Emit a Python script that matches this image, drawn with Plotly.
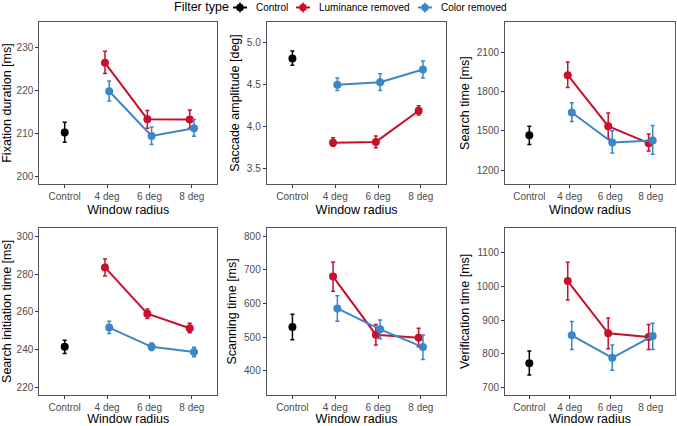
import plotly.graph_objects as go

categories = ["Control", "4 deg", "6 deg", "8 deg"]
conditions = ["4 deg", "6 deg", "8 deg"]

panel_titles = ["Fixation duration [ms]", "Saccade amplitude [deg]", "Search time [ms]",
                "Search initiation time [ms]", "Scanning time [ms]", "Verification time [ms]"]

legend_labels = ["Control", "Luminance removed", "Color removed"]

# Control: mean, lower, upper
control_mean = [210.3, 4.81, 1465, 241.5, 530, 772]
control_lo = [208.0, 4.73, 1395, 238.0, 492, 737]
control_hi = [212.7, 4.90, 1535, 245.0, 568, 808]

# Luminance removed
lum_mean = [[226.5, 213.4, 213.3], [3.81, 3.82, 4.19], [1925, 1535, 1405],
            [283.5, 259.0, 251.3], [680, 507, 498], [1016, 861, 850]]
lum_lo = [[224.0, 211.3, 211.3], [3.77, 3.75, 4.14], [1830, 1440, 1345],
          [279.0, 256.5, 249.0], [636, 476, 471], [960, 815, 813]]
lum_hi = [[229.2, 215.4, 215.5], [3.87, 3.89, 4.25], [2025, 1635, 1475],
          [288.0, 261.5, 254.0], [723, 537, 526], [1072, 906, 887]]

# Color removed
col_mean = [[219.9, 209.5, 211.3], [4.50, 4.53, 4.68], [1640, 1410, 1425],
            [251.7, 241.5, 238.7], [585, 523, 470], [855, 788, 853]]
col_lo = [[217.6, 207.5, 209.4], [4.43, 4.43, 4.58], [1570, 1330, 1320],
          [248.5, 239.5, 236.3], [547, 495, 433], [813, 751, 813]]
col_hi = [[222.3, 211.6, 213.3], [4.58, 4.63, 4.78], [1715, 1500, 1540],
          [255.0, 243.5, 241.3], [623, 551, 506], [896, 826, 891]]

y_ranges = [[198.3, 236.0], [3.32, 5.244], [1093, 2331], [216.1, 304.4], [328, 824.6], [678, 1174]]
y_ticks = [[200, 210, 220, 230], [3.5, 4.0, 4.5, 5.0], [1200, 1500, 1800, 2100],
           [220, 240, 260, 280, 300], [400, 500, 600, 700, 800], [700, 800, 900, 1000, 1100]]
y_ticktext = [None, ["3.5", "4.0", "4.5", "5.0"], None, None, None, None]

C_CTRL = "#000000"
C_LUM = "#C8102E"
C_COL = "#3C86C6"
colors = [C_CTRL, C_LUM, C_COL]

W, H = 677, 426
x_domains = [[0.058, 0.321], [0.394, 0.6595], [0.746, 0.997]]
y_domains = [[0.566, 0.948], [0.0688, 0.4624]]

fig = go.Figure()
dodge = 0.05
FONT = "Liberation Sans, Arial, sans-serif"

for i in range(6):
    ax = "" if i == 0 else str(i + 1)
    xref, yref = "x" + ax, "y" + ax
    # Control
    fig.add_trace(go.Scatter(
        x=[0], y=[control_mean[i]], mode="markers", name="Control", showlegend=False,
        marker=dict(color=C_CTRL, size=8),
        error_y=dict(type="data", symmetric=False,
                     array=[control_hi[i] - control_mean[i]],
                     arrayminus=[control_mean[i] - control_lo[i]],
                     color=C_CTRL, thickness=1.5, width=2),
        xaxis=xref, yaxis=yref))
    for name, mean, lo, hi, col, off in [
        ("Luminance removed", lum_mean[i], lum_lo[i], lum_hi[i], C_LUM, -dodge),
        ("Color removed", col_mean[i], col_lo[i], col_hi[i], C_COL, dodge)]:
        xs = [categories.index(c) + off for c in conditions]
        fig.add_trace(go.Scatter(
            x=xs, y=mean, mode="lines+markers", name=name, showlegend=False,
            marker=dict(color=col, size=8), line=dict(color=col, width=2),
            error_y=dict(type="data", symmetric=False,
                         array=[h - m for h, m in zip(hi, mean)],
                         arrayminus=[m - l for m, l in zip(mean, lo)],
                         color=col, thickness=1.5, width=2),
            xaxis=xref, yaxis=yref))

    r, c = divmod(i, 3)
    axis_common = dict(showline=True, mirror=True, linecolor="#555555", linewidth=1,
                       ticks="outside", ticklen=3, tickcolor="#333333", tickwidth=1,
                       showgrid=False, zeroline=False,
                       tickfont=dict(family=FONT, size=10, color="#4D4D4D"))
    fig.layout["xaxis" + ax] = dict(
        domain=x_domains[c], anchor=yref, range=[-0.6, 3.6],
        tickvals=[0, 1, 2, 3], ticktext=categories,
        title=dict(text="Window radius", font=dict(family=FONT, size=12.5, color="#000"), standoff=4),
        **axis_common)
    ydict = dict(domain=y_domains[r], anchor=xref, range=y_ranges[i], tickvals=y_ticks[i],
                 title=dict(text=panel_titles[i], font=dict(family=FONT, size=12.5, color="#000"), standoff=4),
                 **axis_common)
    if y_ticktext[i] is not None:
        ydict["ticktext"] = y_ticktext[i]
    fig.layout["yaxis" + ax] = ydict

# Custom legend (ggplot-style, top)
leg_y = 1 - 7.5 / H
annotations = [dict(text="Filter type", x=172 / W, y=leg_y, xref="paper", yref="paper",
                    xanchor="left", yanchor="middle", showarrow=False,
                    font=dict(family=FONT, size=12.5, color="#000"))]
shapes = []
key_centers = [240, 303, 425]
for lab, col, cx in zip(legend_labels, colors, key_centers):
    xa = cx / W
    shapes.append(dict(type="line", xref="paper", yref="paper", xsizemode="pixel", ysizemode="pixel",
                       xanchor=xa, yanchor=leg_y, x0=-7, x1=7, y0=0, y1=0,
                       line=dict(color=col, width=2)))
    shapes.append(dict(type="line", xref="paper", yref="paper", xsizemode="pixel", ysizemode="pixel",
                       xanchor=xa, yanchor=leg_y, x0=0, x1=0, y0=-5, y1=5,
                       line=dict(color=col, width=1.5)))
    shapes.append(dict(type="circle", xref="paper", yref="paper", xsizemode="pixel", ysizemode="pixel",
                       xanchor=xa, yanchor=leg_y, x0=-3.8, x1=3.8, y0=-3.8, y1=3.8,
                       fillcolor=col, line=dict(color=col, width=0)))
    annotations.append(dict(text=lab, x=(cx + 14) / W, y=leg_y, xref="paper", yref="paper",
                            xanchor="left", yanchor="middle", showarrow=False,
                            font=dict(family=FONT, size=10, color="#000")))

fig.update_layout(
    width=W, height=H,
    margin=dict(l=0, r=0, t=0, b=0),
    plot_bgcolor="white", paper_bgcolor="white",
    font=dict(family=FONT, size=10, color="#000"),
    showlegend=False,
    annotations=annotations, shapes=shapes,
)

fig.write_html("out.html")
